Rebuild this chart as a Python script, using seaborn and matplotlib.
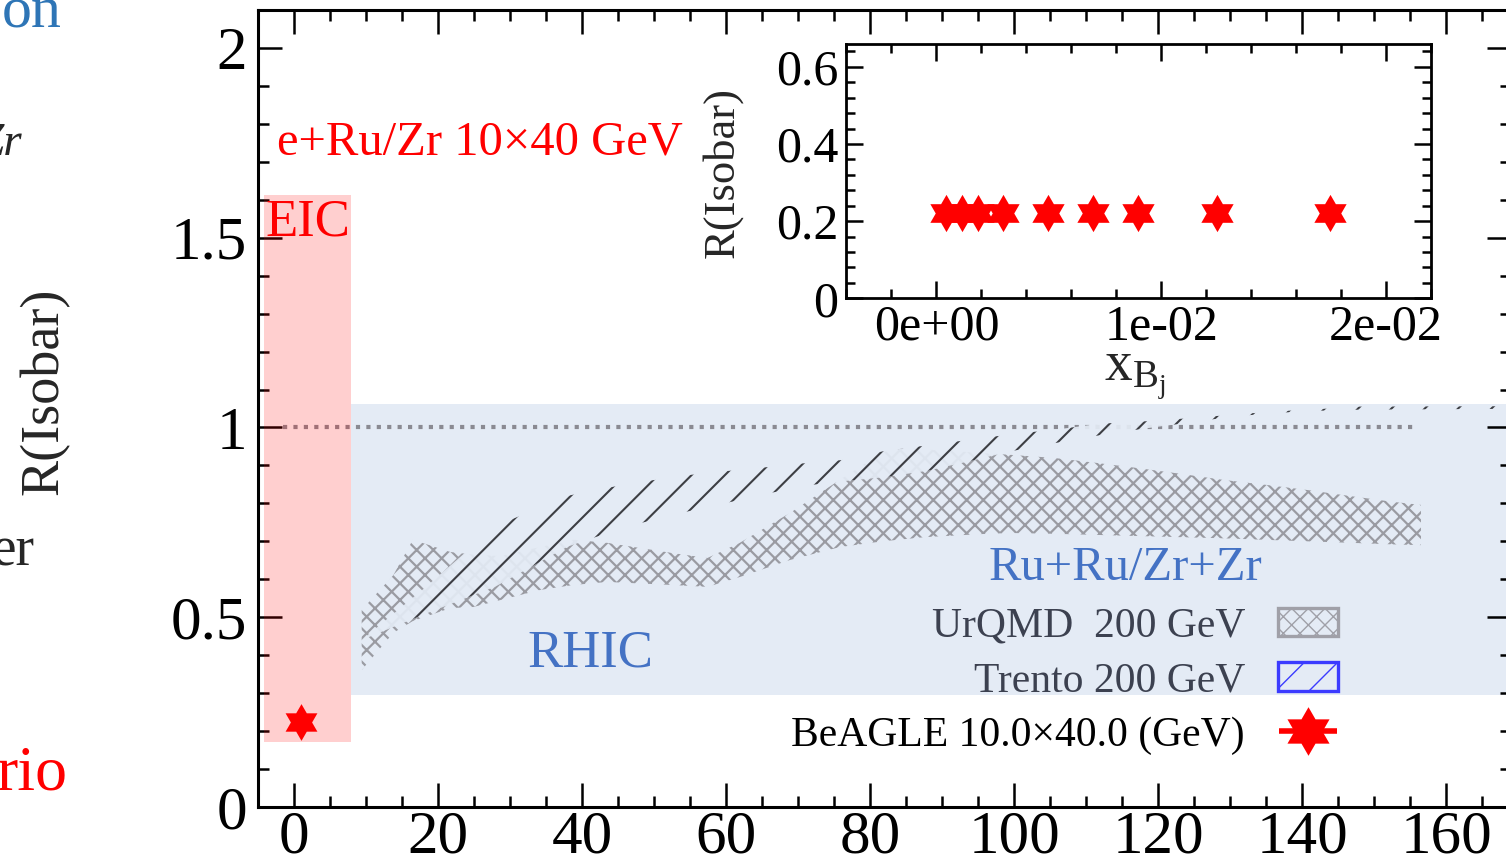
import numpy as np
import matplotlib
matplotlib.use("Agg")
import matplotlib.pyplot as plt
from matplotlib.path import Path
from matplotlib.patches import Patch
from matplotlib.container import ErrorbarContainer
from matplotlib.legend_handler import HandlerErrorbar
from matplotlib.ticker import MultipleLocator, FixedLocator, FixedFormatter
import seaborn as sns

# ------------------------
# Data
# ------------------------

# UrQMD 200 GeV band (cross-hatched)
urqmd_x = [9.4, 13.8, 16.5, 21.7, 24.9, 28.6, 34.2, 38.8, 43.5, 52.6, 57.4, 61.9, 68.9,
           75.8, 81.7, 84.9, 87.6, 95.3, 99.4, 105.4, 111.3, 117.2, 123.1, 129.0, 134.9,
           140.8, 146.8, 152.6, 156.5]
urqmd_lo = [0.361, 0.459, 0.490, 0.524, 0.527, 0.545, 0.572, 0.585, 0.593, 0.585, 0.580,
            0.606, 0.651, 0.685, 0.700, 0.706, 0.711, 0.719, 0.722, 0.720, 0.717, 0.714,
            0.711, 0.708, 0.704, 0.700, 0.696, 0.692, 0.690]
urqmd_hi = [0.519, 0.611, 0.704, 0.672, 0.665, 0.661, 0.685, 0.704, 0.696, 0.669, 0.656,
            0.696, 0.775, 0.862, 0.935, 0.946, 0.942, 0.933, 0.928, 0.920, 0.907, 0.893,
            0.878, 0.862, 0.849, 0.835, 0.819, 0.804, 0.796]

# Trento 200 GeV band (single hatch)
trento_x = [9.4, 18, 28, 38, 46, 54, 60, 66, 72, 76, 82, 88, 94, 100, 106, 112, 118, 124,
            130, 136, 142, 148, 168]
trento_lo = [0.440, 0.507, 0.581, 0.686, 0.738, 0.776, 0.801, 0.827, 0.849, 0.858, 0.869,
             0.886, 0.912, 0.939, 0.960, 0.980, 0.997, 1.012, 1.028, 1.038, 1.044, 1.047,
             1.049]
trento_hi = [0.440, 0.575, 0.740, 0.820, 0.850, 0.873, 0.885, 0.896, 0.908, 0.914, 0.938,
             0.953, 0.968, 0.983, 0.995, 1.010, 1.016, 1.024, 1.033, 1.042, 1.048, 1.055,
             1.056]

# BeAGLE e+Ru/Zr point in the main panel
beagle_x = [1.0]
beagle_y = [0.225]

# inset: R(Isobar) vs x_Bj
xbj = [0.00041, 0.00114, 0.00183, 0.00297, 0.00498, 0.00697, 0.00896, 0.0125, 0.01749]
r_xbj = [0.222, 0.222, 0.222, 0.222, 0.222, 0.222, 0.222, 0.222, 0.220]

# shaded regions and unity line
eic_x = [-4.2, 7.9]
eic_lo, eic_hi = 0.170, 1.613
rhic_x = [7.9, 169.0]
rhic_lo, rhic_hi = 0.295, 1.062
unity_x = [-1.5, 155.4]
unity_y = [1.0, 1.0]

main_xticks = [0, 20, 40, 60, 80, 100, 120, 140, 160]
main_yticks = [0, 0.5, 1, 1.5, 2]
main_ylabels = ["0", "0.5", "1", "1.5", "2"]
inset_xticks = [0.0, 0.01, 0.02]
inset_xlabels = ["0e+00", "1e-02", "2e-02"]
inset_yticks = [0.0, 0.2, 0.4, 0.6]
inset_ylabels = ["0", "0.2", "0.4", "0.6"]

legend_labels = ["UrQMD  200 GeV", "Trento 200 GeV", "BeAGLE 10.0\u00d740.0 (GeV)"]

# ------------------------
# Style
# ------------------------

sns.set_theme(style="ticks")
plt.rcParams['font.family'] = ['Liberation Serif', 'DejaVu Serif']
plt.rcParams['mathtext.fontset'] = 'custom'
plt.rcParams['mathtext.rm'] = 'Liberation Serif'
plt.rcParams['mathtext.it'] = 'Liberation Serif:italic'

RED = '#ff0000'
BLUE_TXT = '#4472c4'
BG_BLUE = '#e4ebf5'

# six-pointed star marker
ang = np.deg2rad(90 + 30 * np.arange(12))
rad = np.where(np.arange(12) % 2 == 0, 1.0, 1 / np.sqrt(3))
star_verts = np.column_stack([rad * np.cos(ang), rad * np.sin(ang)])
star_verts = np.vstack([star_verts, star_verts[:1]])
HEXAGRAM = Path(star_verts, closed=True)

W, H = 1506, 858
fig = plt.figure(figsize=(W / 200, H / 200), dpi=200)


def px(x, y):
    return x / W, 1 - y / H


ax = fig.add_axes([258 / W, (H - 807) / H, (1511 - 258) / W, (807 - 10) / H])
ax.set_facecolor('white')

# RHIC and EIC regions
ax.fill_between(rhic_x, rhic_lo, rhic_hi, color=BG_BLUE, lw=0, zorder=0.5)
sns.lineplot(x=unity_x, y=unity_y, ax=ax, color='#8a8a92', lw=1.5,
             linestyle=(0, (1.0, 1.5)), zorder=1.5)
ax.fill_between(eic_x, eic_lo, eic_hi, color=RED, alpha=0.19, lw=0, zorder=1.6)

# UrQMD band
plt.rcParams['hatch.linewidth'] = 0.8
plt.rcParams['hatch.color'] = '#9a9ba2'
ax.fill_between(urqmd_x, urqmd_lo, urqmd_hi, facecolor='none', edgecolor='#9a9ba2',
                hatch='xxxx', lw=0, zorder=2)

# Trento band
plt.rcParams['hatch.linewidth'] = 0.75
plt.rcParams['hatch.color'] = '#2f3035'
ax.fill_between(trento_x, trento_lo, trento_hi, facecolor=BG_BLUE, edgecolor='#2f3035',
                hatch='//', lw=0, alpha=0.92, zorder=3)

# BeAGLE point
sns.scatterplot(x=beagle_x, y=beagle_y, ax=ax, marker=HEXAGRAM, s=175, color=RED,
                linewidth=0, legend=False, zorder=5)

ax.set_xlim(-5, 169)
ax.set_ylim(0, 2.1)
ax.xaxis.set_major_locator(FixedLocator(main_xticks))
ax.xaxis.set_minor_locator(MultipleLocator(5))
ax.yaxis.set_major_locator(FixedLocator(main_yticks))
ax.yaxis.set_major_formatter(FixedFormatter(main_ylabels))
ax.yaxis.set_minor_locator(MultipleLocator(0.1))
ax.tick_params(which='both', direction='in', top=True, right=True, width=0.9,
               labelsize=22, colors='black')
ax.tick_params(which='major', length=8.5)
ax.tick_params(which='minor', length=4)
ax.tick_params(axis='x', pad=1)
ax.tick_params(axis='y', pad=4)
for s in ax.spines.values():
    s.set_linewidth(1.1)
    s.set_color('black')

# annotations
ax.text(-4.03, 1.505, "EIC", color=RED, fontsize=19, ha='left', va='baseline', zorder=6)
ax.text(-2.36, 1.718, "e+Ru/Zr 10\u00d740 GeV", color=RED, fontsize=17.5, ha='left',
        va='baseline')
ax.text(41.1, 0.3715, "RHIC", color=BLUE_TXT, fontsize=19, ha='center', va='baseline')
ax.text(115.4, 0.598, "Ru+Ru/Zr+Zr", color=BLUE_TXT, fontsize=17.5, ha='center',
        va='baseline')

# legend
plt.rcParams['hatch.linewidth'] = 0.5
h_urqmd = Patch(facecolor='none', edgecolor='#a0a0a8', hatch='xxxx', lw=1.2)
h_trento = Patch(facecolor='none', edgecolor='#3b3bff', hatch='//', lw=1.2)
h_beagle = ax.errorbar([np.nan], [np.nan], xerr=[1.0], marker=HEXAGRAM, ms=17.5,
                       color=RED, ecolor=RED, elinewidth=2.0, capsize=2.6, capthick=3.0,
                       linestyle='none', mew=0)
leg = ax.legend([h_urqmd, h_trento, h_beagle], legend_labels, loc='center right',
                bbox_to_anchor=px(1338, 681), bbox_transform=fig.transFigure,
                frameon=False, fontsize=15, markerfirst=False, handlelength=1.44,
                handleheight=0.67, handletextpad=0.79, labelspacing=0.38, borderpad=0,
                borderaxespad=0,
                handler_map={ErrorbarContainer: HandlerErrorbar(xerr_size=0.7)})
for t, c in zip(leg.get_texts(), ['#3c4150', '#3c4150', 'black']):
    t.set_color(c)

# y label of main panel and cut-off texts from the neighbouring panel
fig.text(*px(44, 391), "R(Isobar)", rotation=90, fontsize=19.5, ha='center', va='center')
fig.text(*px(62, 27), "on", color='#2e75b6', fontsize=21.6, ha='right', va='baseline')
fig.text(*px(22, 155), "Zr", fontsize=17, style='italic', ha='right', va='baseline')
fig.text(*px(35, 565), "er", fontsize=20, ha='right', va='baseline')
fig.text(*px(68, 790), "rio", color=RED, fontsize=23, ha='right', va='baseline')

# ------------------------
# Inset
# ------------------------

ax_in = fig.add_axes([846.5 / W, (H - 298.3) / H, (1431 - 846.5) / W, (298.3 - 44) / H])
ax_in.set_facecolor('white')
sns.scatterplot(x=xbj, y=r_xbj, ax=ax_in, marker=HEXAGRAM, s=180, color=RED,
                linewidth=0, legend=False, zorder=5)
ax_in.set_xlim(-0.004, 0.022)
ax_in.set_ylim(0, 0.659)
ax_in.xaxis.set_major_locator(FixedLocator(inset_xticks))
ax_in.xaxis.set_major_formatter(FixedFormatter(inset_xlabels))
ax_in.xaxis.set_minor_locator(MultipleLocator(0.002))
ax_in.yaxis.set_major_locator(FixedLocator(inset_yticks))
ax_in.yaxis.set_major_formatter(FixedFormatter(inset_ylabels))
ax_in.yaxis.set_minor_locator(MultipleLocator(0.04))
ax_in.tick_params(which='both', direction='in', top=True, right=True, width=0.9,
                  labelsize=18, colors='black')
ax_in.tick_params(which='major', length=6)
ax_in.tick_params(which='minor', length=3.2)
ax_in.tick_params(axis='x', pad=2)
ax_in.tick_params(axis='y', pad=3)
ax_in.set_xlabel("")
ax_in.set_ylabel("")
for s in ax_in.spines.values():
    s.set_linewidth(1.0)
    s.set_color('black')

fig.text(*px(722, 172), "R(Isobar)", rotation=90, fontsize=16, ha='center', va='center')
fig.text(*px(1135, 376), r"$\mathrm{x}_{\mathrm{B}_{\mathrm{j}}}$", fontsize=20,
         ha='center', va='center')

fig.savefig("out.png", dpi=200)
